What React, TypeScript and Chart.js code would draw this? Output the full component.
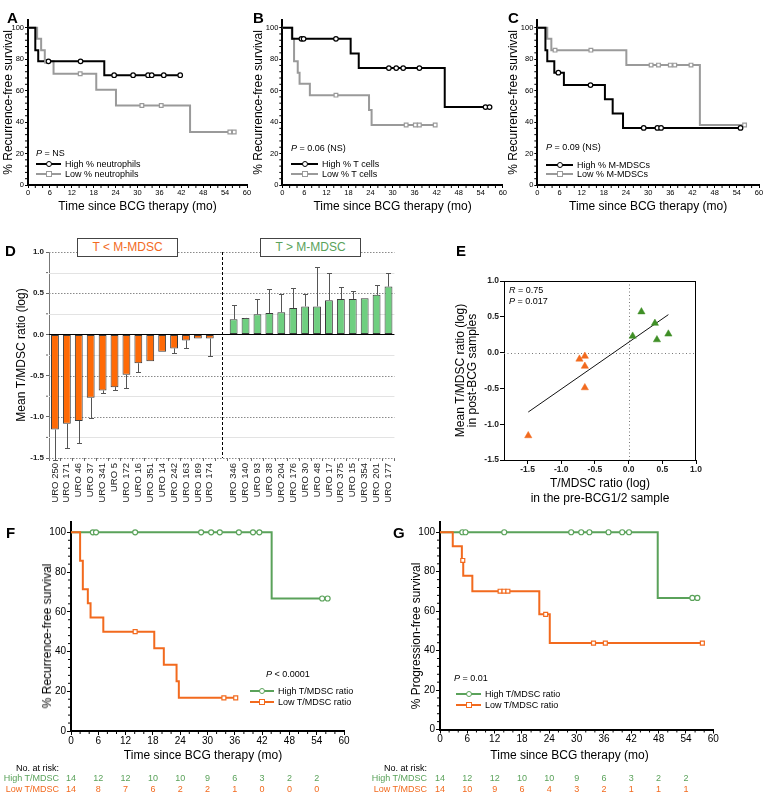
import React, { useEffect, useRef } from 'react';
import { Chart, registerables } from 'chart.js';

Chart.register(...registerables);

const FONT = '"Liberation Sans", Arial, Helvetica, sans-serif';
const BLACK = '#000000';
const GRAY = '#9a9a9a';
const GREEN = '#5aa25a';
const ORANGE = '#f26a1e';
const BAR_ORANGE = '#ff6a06';
const BAR_GREEN = '#6fcf80';
const TRI_GREEN = '#3f8f26';

// ---------- shared Kaplan–Meier axes ----------
const KM_X_TICKS = [0, 6, 12, 18, 24, 30, 36, 42, 48, 54, 60];
const KM_X_MINOR = [2, 4, 8, 10, 14, 16, 20, 22, 26, 28, 32, 34, 38, 40, 44, 46, 50, 52, 56, 58];
const KM_Y_TICKS = [0, 20, 40, 60, 80, 100];
const KM_Y_MINOR = [4, 8, 12, 16, 24, 28, 32, 36, 44, 48, 52, 56, 64, 68, 72, 76, 84, 88, 92, 96];
const AT_RISK_TIMES = [0, 6, 12, 18, 24, 30, 36, 42, 48, 54];

// ---------- Panel A (neutrophils) ----------
const A_HIGH_T = [0, 2.0, 2.8, 20.9, 41.7];
const A_HIGH_S = [100, 85.7, 78.6, 69.8, 69.8];
const A_HIGH_CENS_T = [5.6, 14.4, 23.6, 28.8, 32.9, 33.9, 37.2, 41.7];
const A_HIGH_CENS_S = [78.6, 78.6, 69.8, 69.8, 69.8, 69.8, 69.8, 69.8];
const A_LOW_T = [0, 2.5, 3.6, 4.6, 7.0, 18.7, 24.1, 44.4, 56.5];
const A_LOW_S = [100, 92.9, 85.7, 78.6, 70.7, 60.6, 50.5, 33.7, 33.7];
const A_LOW_CENS_T = [5.1, 14.3, 31.2, 36.5, 55.3, 56.5];
const A_LOW_CENS_S = [78.6, 70.7, 50.5, 50.5, 33.7, 33.7];

// ---------- Panel B (T cells) ----------
const B_HIGH_T = [0, 2.7, 18.6, 20.8, 44.2, 56.4];
const B_HIGH_S = [100, 92.9, 83.6, 74.3, 49.5, 49.5];
const B_HIGH_CENS_T = [5.2, 5.8, 14.6, 29.0, 31.0, 32.9, 37.3, 55.3, 56.4];
const B_HIGH_CENS_S = [92.9, 92.9, 92.9, 74.3, 74.3, 74.3, 74.3, 49.5, 49.5];
const B_LOW_T = [0, 2.6, 3.2, 4.2, 4.7, 7.5, 23.6, 24.3, 41.6];
const B_LOW_S = [100, 92.9, 78.6, 71.4, 64.3, 57.1, 47.6, 38.1, 38.1];
const B_LOW_CENS_T = [14.6, 33.7, 36.2, 37.3, 41.6];
const B_LOW_CENS_S = [57.1, 38.1, 38.1, 38.1, 38.1];

// ---------- Panel C (M-MDSCs) ----------
const C_HIGH_T = [0, 2.2, 2.7, 4.6, 7.2, 18.3, 20.4, 23.2, 55.0];
const C_HIGH_S = [100, 85.7, 78.6, 71.4, 63.5, 54.5, 45.4, 36.3, 36.3];
const C_HIGH_CENS_T = [5.7, 14.4, 28.8, 32.5, 33.5, 55.0];
const C_HIGH_CENS_S = [71.4, 63.5, 36.3, 36.3, 36.3, 36.3];
const C_LOW_T = [0, 2.7, 3.8, 24.1, 44.0, 56.1];
const C_LOW_S = [100, 92.9, 85.7, 76.2, 38.1, 38.1];
const C_LOW_CENS_T = [4.8, 14.5, 30.8, 32.8, 36.0, 37.2, 41.6, 56.1];
const C_LOW_CENS_S = [85.7, 85.7, 76.2, 76.2, 76.2, 76.2, 76.2, 38.1];

// ---------- Panel D (mean T/MDSC ratio per patient) ----------
const D_LOW_LABELS = ['URO 250', 'URO 171', 'URO 46', 'URO 37', 'URO 341', 'URO 5', 'URO 172', 'URO 16', 'URO 351', 'URO 14', 'URO 242', 'URO 163', 'URO 169', 'URO 174'];
const D_LOW_VALUES = [-1.155, -1.085, -1.05, -0.77, -0.68, -0.64, -0.49, -0.35, -0.325, -0.21, -0.17, -0.073, -0.05, -0.05];
const D_LOW_ERR_END = [-1.52, -1.38, -1.32, -1.02, -0.71, -0.67, -0.65, -0.46, null, null, -0.23, -0.16, null, -0.26];
const D_HIGH_LABELS = ['URO 346', 'URO 140', 'URO 93', 'URO 38', 'URO 204', 'URO 176', 'URO 30', 'URO 48', 'URO 17', 'URO 375', 'URO 15', 'URO 354', 'URO 201', 'URO 177'];
const D_HIGH_VALUES = [0.183, 0.2, 0.244, 0.26, 0.27, 0.32, 0.34, 0.34, 0.415, 0.43, 0.43, 0.44, 0.48, 0.58];
const D_HIGH_ERR_END = [0.36, 0.205, 0.43, 0.55, 0.49, 0.56, 0.49, 0.82, 0.75, 0.57, 0.53, null, 0.6, 0.75];
const D_Y_TICKS = [-1.5, -1.0, -0.5, 0, 0.5, 1.0];
const D_Y_GRID = [-1.5, -1.0, -0.5, 0.5, 1.0];
const D_Y_MINOR = [-1.25, -0.75, -0.25, 0.25, 0.75];

// ---------- Panel E (correlation) ----------
const E_LOW_X = [-1.49, -0.73, -0.65, -0.65, -0.65];
const E_LOW_Y = [-1.16, -0.09, -0.05, -0.19, -0.49];
const E_HIGH_X = [0.06, 0.19, 0.39, 0.42, 0.59];
const E_HIGH_Y = [0.23, 0.57, 0.41, 0.18, 0.26];
const E_FIT_X = [-1.49, 0.59];
const E_FIT_Y = [-0.83, 0.53];
const E_TICKS = [-1.5, -1.0, -0.5, 0, 0.5, 1.0];

// ---------- Panel F (recurrence-free, T/MDSC) ----------
const F_HIGH_T = [0, 44.1, 56.4];
const F_HIGH_S = [100, 66.7, 66.7];
const F_HIGH_CENS_T = [4.8, 5.5, 14.1, 28.6, 30.8, 32.7, 36.9, 40.0, 41.4, 55.2, 56.4];
const F_HIGH_CENS_S = [100, 100, 100, 100, 100, 100, 100, 100, 100, 66.7, 66.7];
const F_LOW_T = [0, 2.0, 2.6, 3.7, 4.3, 7.1, 18.3, 20.4, 23.2, 23.7, 36.2];
const F_LOW_S = [100, 85.7, 71.4, 64.3, 57.1, 50, 41.7, 33.3, 25, 16.7, 16.7];
const F_LOW_CENS_T = [14.1, 33.6, 36.2];
const F_LOW_CENS_S = [50, 16.7, 16.7];
const F_RISK_HIGH = [14, 12, 12, 10, 10, 9, 6, 3, 2, 2];
const F_RISK_LOW = [14, 8, 7, 6, 2, 2, 1, 0, 0, 0];

// ---------- Panel G (progression-free, T/MDSC) ----------
const G_HIGH_T = [0, 47.8, 56.5];
const G_HIGH_S = [100, 66.7, 66.7];
const G_HIGH_CENS_T = [4.9, 5.6, 14.1, 28.8, 31.0, 32.8, 37.0, 40.0, 41.5, 55.4, 56.5];
const G_HIGH_CENS_S = [100, 100, 100, 100, 100, 100, 100, 100, 100, 66.7, 66.7];
const G_LOW_T = [0, 2.8, 4.8, 5.1, 7.1, 21.8, 24.1, 57.6];
const G_LOW_S = [100, 92.9, 85.7, 77.9, 70.1, 58.4, 43.8, 43.8];
const G_LOW_CENS_T = [5.0, 13.2, 14.05, 14.9, 23.2, 33.7, 36.3, 57.6];
const G_LOW_CENS_S = [85.7, 70.1, 70.1, 70.1, 58.4, 43.8, 43.8, 43.8];
const G_RISK_HIGH = [14, 12, 12, 10, 10, 9, 6, 3, 2, 2];
const G_RISK_LOW = [14, 10, 9, 6, 4, 3, 2, 1, 1, 1];

// ---------- layout ----------
type Rect = { x: number; y: number; w: number; h: number };
type Plot = { l: number; t: number; r: number; b: number };

const A_RECT: Rect = { x: 0, y: 5, w: 253, h: 210 };
const A_PLOT: Plot = { l: 28, t: 19.8, r: 247, b: 185 };
const B_RECT: Rect = { x: 250, y: 5, w: 258, h: 210 };
const B_PLOT: Plot = { l: 282.3, t: 19.8, r: 504, b: 185 };
const C_RECT: Rect = { x: 505, y: 5, w: 265, h: 210 };
const C_PLOT: Plot = { l: 537.3, t: 19.8, r: 759, b: 185 };
const D_RECT: Rect = { x: 0, y: 232, w: 402, h: 288 };
const D_PLOT: Plot = { l: 49, t: 252, r: 396, b: 458 };
const E_RECT: Rect = { x: 440, y: 262, w: 285, h: 248 };
const E_PLOT: Plot = { l: 504, t: 281, r: 696, b: 460 };
const F_RECT: Rect = { x: 28, y: 512, w: 330, h: 240 };
const F_PLOT: Plot = { l: 71, t: 522.4, r: 344, b: 731 };
const G_RECT: Rect = { x: 396, y: 512, w: 330, h: 240 };
const G_PLOT: Plot = { l: 440, t: 522.4, r: 713.3, b: 729.5 };

function frame(rect: Rect, plot: Plot) {
  return {
    padding: { left: 0, top: plot.t - rect.y, right: rect.x + rect.w - plot.r, bottom: 0 },
    yWidth: plot.l - rect.x,
    xHeight: rect.y + rect.h - plot.b,
  };
}

function baseOptions(L: any) {
  return {
    animation: false,
    responsive: false,
    maintainAspectRatio: false,
    devicePixelRatio: 1,
    events: [],
    layout: { padding: L.padding },
    plugins: { legend: { display: false }, tooltip: { enabled: false }, title: { display: false } },
  };
}

function minorTicks(xVals: number[], yVals: number[], len: number, width: number, color: string) {
  return {
    id: 'minorTicks',
    afterDraw(chart: any) {
      const { ctx, chartArea: a, scales } = chart;
      ctx.save();
      ctx.strokeStyle = color;
      ctx.lineWidth = width;
      ctx.beginPath();
      xVals.forEach((v) => {
        const px = scales.x.getPixelForValue(v);
        ctx.moveTo(px, a.bottom + 1);
        ctx.lineTo(px, a.bottom + 1 + len);
      });
      yVals.forEach((v) => {
        const py = scales.y.getPixelForValue(v);
        ctx.moveTo(a.left - 1, py);
        ctx.lineTo(a.left - 1 - len, py);
      });
      ctx.stroke();
      ctx.restore();
    },
  };
}

type KMSeries = { t: number[]; s: number[]; ct: number[]; cs: number[]; color: string; marker: string; width: number; radius: number };

function kmConfig(rect: Rect, plot: Plot, series: KMSeries[], o: any) {
  const L = frame(rect, plot);
  const datasets: any[] = [];
  series.forEach((sr) =>
    datasets.push({
      type: 'line',
      data: sr.ct.map((x, i) => ({ x, y: sr.cs[i] })),
      showLine: false,
      pointStyle: sr.marker,
      pointRadius: sr.radius,
      pointBackgroundColor: '#ffffff',
      pointBorderColor: sr.color,
      pointBorderWidth: 1.2,
      clip: false,
    })
  );
  series.forEach((sr) =>
    datasets.push({
      type: 'line',
      data: sr.t.map((x, i) => ({ x, y: sr.s[i] })),
      stepped: 'before',
      borderColor: sr.color,
      borderWidth: sr.width,
      pointRadius: 0,
      fill: false,
      clip: false,
    })
  );
  return {
    type: 'line',
    data: { datasets },
    plugins: [minorTicks(KM_X_MINOR, KM_Y_MINOR, 2, 1, BLACK)],
    options: {
      ...baseOptions(L),
      scales: {
        x: {
          type: 'linear',
          min: 0,
          max: 60,
          afterBuildTicks: (s: any) => {
            s.ticks = KM_X_TICKS.map((v) => ({ value: v }));
          },
          afterFit: (s: any) => {
            s.height = L.xHeight;
          },
          ticks: { font: { family: FONT, size: o.tickSize }, color: BLACK, padding: o.xTickPad, maxRotation: 0, autoSkip: false },
          grid: { drawOnChartArea: false, tickLength: o.tickLen, tickWidth: 1, tickColor: BLACK },
          border: { color: BLACK, width: o.axisWidth },
          title: o.xTitle
            ? { display: true, text: o.xTitle, font: { family: FONT, size: 12 }, color: BLACK, padding: { top: 0, bottom: o.xTitlePad } }
            : { display: false },
        },
        y: {
          type: 'linear',
          min: 0,
          max: 105,
          afterBuildTicks: (s: any) => {
            s.ticks = KM_Y_TICKS.map((v) => ({ value: v }));
          },
          afterFit: (s: any) => {
            s.width = L.yWidth;
          },
          ticks: { font: { family: FONT, size: o.tickSize }, color: BLACK, padding: o.yTickPad, autoSkip: false },
          grid: { drawOnChartArea: false, tickLength: o.tickLen, tickWidth: 1, tickColor: BLACK },
          border: { color: BLACK, width: o.axisWidth },
          title: o.yTitle
            ? { display: true, text: o.yTitle, font: { family: FONT, size: 12 }, color: BLACK, padding: { top: o.yTitlePad, bottom: 0 } }
            : { display: false },
        },
      },
    },
  };
}

const TOP_KM_OPTS = {
  tickSize: 7.5,
  tickLen: 3,
  xTickPad: 0,
  yTickPad: 1,
  axisWidth: 2,
  xTitle: 'Time since BCG therapy (mo)',
  yTitle: '% Recurrence-free survival',
  xTitlePad: 0.8,
  yTitlePad: 1.8,
};

const BOTTOM_KM_OPTS = {
  tickSize: 10,
  tickLen: 4,
  xTickPad: 0,
  yTickPad: 1,
  axisWidth: 2,
};

function configA() {
  return kmConfig(A_RECT, A_PLOT, [
    { t: A_HIGH_T, s: A_HIGH_S, ct: A_HIGH_CENS_T, cs: A_HIGH_CENS_S, color: BLACK, marker: 'circle', width: 2, radius: 2.3 },
    { t: A_LOW_T, s: A_LOW_S, ct: A_LOW_CENS_T, cs: A_LOW_CENS_S, color: GRAY, marker: 'rect', width: 2, radius: 2.6 },
  ], TOP_KM_OPTS);
}
function configB() {
  return kmConfig(B_RECT, B_PLOT, [
    { t: B_HIGH_T, s: B_HIGH_S, ct: B_HIGH_CENS_T, cs: B_HIGH_CENS_S, color: BLACK, marker: 'circle', width: 2, radius: 2.3 },
    { t: B_LOW_T, s: B_LOW_S, ct: B_LOW_CENS_T, cs: B_LOW_CENS_S, color: GRAY, marker: 'rect', width: 2, radius: 2.6 },
  ], TOP_KM_OPTS);
}
function configC() {
  return kmConfig(C_RECT, C_PLOT, [
    { t: C_HIGH_T, s: C_HIGH_S, ct: C_HIGH_CENS_T, cs: C_HIGH_CENS_S, color: BLACK, marker: 'circle', width: 2, radius: 2.3 },
    { t: C_LOW_T, s: C_LOW_S, ct: C_LOW_CENS_T, cs: C_LOW_CENS_S, color: GRAY, marker: 'rect', width: 2, radius: 2.6 },
  ], TOP_KM_OPTS);
}
function configF() {
  return kmConfig(F_RECT, F_PLOT, [
    { t: F_LOW_T, s: F_LOW_S, ct: F_LOW_CENS_T, cs: F_LOW_CENS_S, color: ORANGE, marker: 'rect', width: 2, radius: 2.8 },
    { t: F_HIGH_T, s: F_HIGH_S, ct: F_HIGH_CENS_T, cs: F_HIGH_CENS_S, color: GREEN, marker: 'circle', width: 2, radius: 2.5 },
  ], BOTTOM_KM_OPTS);
}
function configG() {
  return kmConfig(G_RECT, G_PLOT, [
    { t: G_LOW_T, s: G_LOW_S, ct: G_LOW_CENS_T, cs: G_LOW_CENS_S, color: ORANGE, marker: 'rect', width: 2, radius: 2.8 },
    { t: G_HIGH_T, s: G_HIGH_S, ct: G_HIGH_CENS_T, cs: G_HIGH_CENS_S, color: GREEN, marker: 'circle', width: 2, radius: 2.5 },
  ], BOTTOM_KM_OPTS);
}

function configD() {
  const L = frame(D_RECT, D_PLOT);
  const labels = [...D_LOW_LABELS, '', ...D_HIGH_LABELS];
  const values = [...D_LOW_VALUES, null, ...D_HIGH_VALUES];
  const errEnds = [...D_LOW_ERR_END, null, ...D_HIGH_ERR_END];
  const colors = [...D_LOW_VALUES.map(() => BAR_ORANGE), 'rgba(0,0,0,0)', ...D_HIGH_VALUES.map(() => BAR_GREEN)];
  const gapIndex = D_LOW_LABELS.length;
  const decor = {
    id: 'dDecor',
    beforeDatasetsDraw(chart: any) {
      const { ctx, chartArea: a, scales } = chart;
      const y = scales.y;
      ctx.save();
      ctx.lineWidth = 1;
      ctx.strokeStyle = '#e3e3e3';
      ctx.beginPath();
      D_Y_MINOR.forEach((v) => {
        const py = Math.round(y.getPixelForValue(v)) + 0.5;
        ctx.moveTo(a.left, py);
        ctx.lineTo(a.right, py);
      });
      ctx.stroke();
      ctx.strokeStyle = '#8a8a8a';
      ctx.setLineDash([1.5, 1.5]);
      ctx.beginPath();
      D_Y_GRID.forEach((v) => {
        const py = Math.round(y.getPixelForValue(v)) + 0.5;
        ctx.moveTo(a.left, py);
        ctx.lineTo(a.right, py);
      });
      ctx.stroke();
      ctx.restore();
    },
    afterDatasetsDraw(chart: any) {
      const { ctx, chartArea: a, scales } = chart;
      const x = scales.x;
      const y = scales.y;
      const meta = chart.getDatasetMeta(0);
      ctx.save();
      // error bars
      ctx.strokeStyle = '#555555';
      ctx.lineWidth = 1;
      ctx.beginPath();
      values.forEach((v, i) => {
        const e = errEnds[i];
        if (v === null || e === null || e === undefined) return;
        const px = Math.round(meta.data[i].x) + 0.5;
        const y0 = y.getPixelForValue(v as number);
        const y1 = Math.round(y.getPixelForValue(e)) + 0.5;
        ctx.moveTo(px, y0);
        ctx.lineTo(px, y1);
        ctx.moveTo(px - 2.5, y1);
        ctx.lineTo(px + 2.5, y1);
      });
      ctx.stroke();
      // zero line
      ctx.strokeStyle = BLACK;
      ctx.beginPath();
      const y0 = Math.round(y.getPixelForValue(0)) + 0.5;
      ctx.moveTo(a.left, y0);
      ctx.lineTo(a.right, y0);
      ctx.stroke();
      // divider
      ctx.setLineDash([3, 2]);
      ctx.beginPath();
      const gx = Math.round(x.getPixelForValue(gapIndex)) + 0.5;
      ctx.moveTo(gx, a.top);
      ctx.lineTo(gx, a.bottom);
      ctx.stroke();
      ctx.restore();
    },
  };
  return {
    type: 'bar',
    data: {
      labels,
      datasets: [
        {
          data: values,
          backgroundColor: colors,
          borderColor: '#3a3a3a',
          borderWidth: 1,
          borderSkipped: false,
          barPercentage: 0.66,
          categoryPercentage: 1,
        },
      ],
    },
    plugins: [decor, minorTicks([], D_Y_MINOR, 2, 1, '#666666')],
    options: {
      ...baseOptions(L),
      scales: {
        x: {
          type: 'category',
          afterFit: (s: any) => {
            s.height = L.xHeight;
          },
          ticks: { autoSkip: false, minRotation: 90, maxRotation: 90, font: { family: FONT, size: 9.5 }, color: '#222222', padding: 2 },
          grid: { drawOnChartArea: false, tickLength: 3, color: '#666666' },
          border: { display: false },
        },
        y: {
          type: 'linear',
          min: -1.5,
          max: 1.0,
          afterBuildTicks: (s: any) => {
            s.ticks = D_Y_TICKS.map((v) => ({ value: v }));
          },
          afterFit: (s: any) => {
            s.width = L.yWidth;
          },
          ticks: { callback: (v: any) => Number(v).toFixed(1), font: { family: FONT, size: 8, weight: 'bold' }, color: '#222222', padding: 2 },
          grid: { drawOnChartArea: false, tickLength: 3, color: '#666666' },
          border: { color: '#777777', width: 1 },
          title: { display: true, text: 'Mean T/MDSC ratio (log)', font: { family: FONT, size: 12 }, color: BLACK, padding: { top: 14.8, bottom: 0 } },
        },
      },
    },
  };
}

function configE() {
  const L = frame(E_RECT, E_PLOT);
  const decor = {
    id: 'eDecor',
    beforeDatasetsDraw(chart: any) {
      const { ctx, chartArea: a, scales } = chart;
      ctx.save();
      ctx.strokeStyle = '#777777';
      ctx.lineWidth = 1;
      ctx.setLineDash([1, 2.5]);
      ctx.beginPath();
      const px = Math.round(scales.x.getPixelForValue(0)) + 0.5;
      const py = Math.round(scales.y.getPixelForValue(0)) + 0.5;
      ctx.moveTo(px, a.top);
      ctx.lineTo(px, a.bottom);
      ctx.moveTo(a.left, py);
      ctx.lineTo(a.right, py);
      ctx.stroke();
      ctx.restore();
    },
    afterDraw(chart: any) {
      const { ctx, chartArea: a } = chart;
      ctx.save();
      ctx.strokeStyle = BLACK;
      ctx.lineWidth = 1;
      ctx.beginPath();
      ctx.moveTo(a.left, Math.round(a.top) + 0.5);
      ctx.lineTo(a.right, Math.round(a.top) + 0.5);
      ctx.moveTo(Math.round(a.right) - 0.5, a.top);
      ctx.lineTo(Math.round(a.right) - 0.5, a.bottom);
      ctx.stroke();
      ctx.restore();
    },
  };
  const tickFont = { family: FONT, size: 8.5, weight: 'bold' };
  return {
    type: 'scatter',
    data: {
      datasets: [
        {
          data: E_LOW_X.map((x, i) => ({ x, y: E_LOW_Y[i] })),
          pointStyle: 'triangle',
          pointRadius: 4.2,
          backgroundColor: ORANGE,
          borderColor: ORANGE,
          borderWidth: 0.5,
        },
        {
          data: E_HIGH_X.map((x, i) => ({ x, y: E_HIGH_Y[i] })),
          pointStyle: 'triangle',
          pointRadius: 4.2,
          backgroundColor: TRI_GREEN,
          borderColor: TRI_GREEN,
          borderWidth: 0.5,
        },
        {
          type: 'line',
          data: E_FIT_X.map((x, i) => ({ x, y: E_FIT_Y[i] })),
          showLine: true,
          borderColor: '#111111',
          borderWidth: 1,
          pointRadius: 0,
        },
      ],
    },
    plugins: [decor],
    options: {
      ...baseOptions(L),
      scales: {
        x: {
          type: 'linear',
          min: -1.85,
          max: 1.0,
          afterBuildTicks: (s: any) => {
            s.ticks = E_TICKS.map((v) => ({ value: v }));
          },
          afterFit: (s: any) => {
            s.height = L.xHeight;
          },
          ticks: { callback: (v: any) => Number(v).toFixed(1), font: tickFont, color: '#222222', padding: 1, maxRotation: 0, autoSkip: false },
          grid: { drawOnChartArea: false, tickLength: 4, tickColor: BLACK },
          border: { color: BLACK, width: 1 },
          title: {
            display: true,
            text: ['T/MDSC ratio (log)', 'in the pre-BCG1/2 sample'],
            font: { family: FONT, size: 12, lineHeight: 1.2 },
            color: BLACK,
            padding: { top: 0, bottom: 4.4 },
          },
        },
        y: {
          type: 'linear',
          min: -1.5,
          max: 1.0,
          afterBuildTicks: (s: any) => {
            s.ticks = E_TICKS.map((v) => ({ value: v }));
          },
          afterFit: (s: any) => {
            s.width = L.yWidth;
          },
          ticks: { callback: (v: any) => Number(v).toFixed(1), font: tickFont, color: '#222222', padding: 1, autoSkip: false },
          grid: { drawOnChartArea: false, tickLength: 4, tickColor: BLACK },
          border: { color: BLACK, width: 1 },
          title: {
            display: true,
            text: ['Mean T/MDSC ratio (log)', 'in post-BCG samples'],
            font: { family: FONT, size: 12, lineHeight: 0.95 },
            color: BLACK,
            padding: { top: 15.3, bottom: 0 },
          },
        },
      },
    },
  };
}

// ---------- React pieces ----------
function ChartCanvas({ rect, make }: { rect: Rect; make: () => any }) {
  const ref = useRef<HTMLCanvasElement | null>(null);
  useEffect(() => {
    const chart = new Chart(ref.current as HTMLCanvasElement, make());
    return () => chart.destroy();
  }, []);
  return (
    <canvas
      ref={ref}
      width={rect.w}
      height={rect.h}
      style={{ position: 'absolute', left: rect.x, top: rect.y, width: rect.w, height: rect.h }}
    />
  );
}

function Txt({ x, y, size = 9, color = BLACK, align = 'left', bold = false, children }: any) {
  const tx = align === 'center' ? '-50%' : align === 'right' ? '-100%' : '0';
  return (
    <div
      style={{
        position: 'absolute',
        left: x,
        top: y,
        transform: `translate(${tx}, -50%)`,
        fontSize: size,
        lineHeight: 1,
        color,
        fontWeight: bold ? 700 : 400,
        whiteSpace: 'nowrap',
      }}
    >
      {children}
    </div>
  );
}

function VTxt({ x, y, size = 12, children }: any) {
  return (
    <div
      style={{
        position: 'absolute',
        left: x,
        top: y,
        transform: 'translate(-50%, -50%) rotate(-90deg)',
        fontSize: size,
        lineHeight: 1,
        whiteSpace: 'nowrap',
        color: BLACK,
      }}
    >
      {children}
    </div>
  );
}

function LegendRow({ x1, x2, y, color, marker, label, size = 9 }: any) {
  const mx = (x1 + x2) / 2;
  return (
    <>
      <div style={{ position: 'absolute', left: x1, top: y - 1, width: x2 - x1, height: 2, background: color }} />
      <div
        style={{
          position: 'absolute',
          left: mx - 3,
          top: y - 3,
          width: 6,
          height: 6,
          boxSizing: 'border-box',
          border: `1.2px solid ${color}`,
          background: '#ffffff',
          borderRadius: marker === 'circle' ? '50%' : 0,
        }}
      />
      <Txt x={x2 + 4} y={y} size={size}>
        {label}
      </Txt>
    </>
  );
}

function AtRisk({ plot, labelRight, ys, high, low }: any) {
  const px = (t: number) => plot.l + (t / 60) * (plot.r - plot.l);
  return (
    <>
      <Txt x={labelRight} y={ys[0]} align="right" size={9}>
        No. at risk:
      </Txt>
      <Txt x={labelRight} y={ys[1]} align="right" size={9} color={GREEN}>
        High T/MDSC
      </Txt>
      <Txt x={labelRight} y={ys[2]} align="right" size={9} color={ORANGE}>
        Low T/MDSC
      </Txt>
      {AT_RISK_TIMES.map((t, i) => (
        <Txt key={'h' + t} x={px(t)} y={ys[1]} align="center" size={9} color={GREEN}>
          {high[i]}
        </Txt>
      ))}
      {AT_RISK_TIMES.map((t, i) => (
        <Txt key={'l' + t} x={px(t)} y={ys[2]} align="center" size={9} color={ORANGE}>
          {low[i]}
        </Txt>
      ))}
    </>
  );
}

function PText({ x, y, rest, size = 9 }: any) {
  return (
    <Txt x={x} y={y} size={size}>
      <i>P</i>
      {rest}
    </Txt>
  );
}

function Box({ x, y, w, h, color, children }: any) {
  return (
    <div
      style={{
        position: 'absolute',
        left: x,
        top: y,
        width: w,
        height: h,
        boxSizing: 'border-box',
        border: '1.5px solid #444444',
        background: '#ffffff',
        color,
        fontSize: 12,
        lineHeight: `${h - 3}px`,
        textAlign: 'center',
        whiteSpace: 'nowrap',
      }}
    >
      {children}
    </div>
  );
}

export default function App() {
  return (
    <div
      style={{
        position: 'absolute',
        left: 0,
        top: 0,
        width: 763,
        height: 810,
        overflow: 'hidden',
        background: '#ffffff',
        fontFamily: FONT,
        color: BLACK,
      }}
    >
      <ChartCanvas rect={A_RECT} make={configA} />
      <ChartCanvas rect={B_RECT} make={configB} />
      <ChartCanvas rect={C_RECT} make={configC} />
      <ChartCanvas rect={D_RECT} make={configD} />
      <ChartCanvas rect={E_RECT} make={configE} />
      <ChartCanvas rect={F_RECT} make={configF} />
      <ChartCanvas rect={G_RECT} make={configG} />

      {/* panel letters */}
      <Txt x={7} y={17} size={15} bold>A</Txt>
      <Txt x={253} y={17} size={15} bold>B</Txt>
      <Txt x={508} y={17} size={15} bold>C</Txt>
      <Txt x={5} y={250} size={15} bold>D</Txt>
      <Txt x={456} y={250} size={15} bold>E</Txt>
      <Txt x={6} y={532} size={15} bold>F</Txt>
      <Txt x={393} y={532} size={15} bold>G</Txt>

      {/* A legend */}
      <PText x={36} y={153} rest=" = NS" />
      <LegendRow x1={36} x2={61} y={164} color={BLACK} marker="circle" label="High % neutrophils" />
      <LegendRow x1={36} x2={61} y={174} color={GRAY} marker="rect" label="Low % neutrophils" />

      {/* B legend */}
      <PText x={291} y={147.5} rest=" = 0.06 (NS)" />
      <LegendRow x1={291} x2={318} y={164.3} color={BLACK} marker="circle" label="High % T cells" />
      <LegendRow x1={291} x2={318} y={173.7} color={GRAY} marker="rect" label="Low % T cells" />

      {/* C legend */}
      <PText x={546} y={147} rest=" = 0.09 (NS)" />
      <LegendRow x1={546} x2={573} y={165} color={BLACK} marker="circle" label="High % M-MDSCs" />
      <LegendRow x1={546} x2={573} y={173.7} color={GRAY} marker="rect" label="Low % M-MDSCs" />

      {/* D boxes */}
      <Box x={77} y={238} w={101} h={19} color={ORANGE}>T &lt; M-MDSC</Box>
      <Box x={260} y={238} w={101} h={19} color={GREEN}>T &gt; M-MDSC</Box>

      {/* E stats */}
      <Txt x={509} y={290} size={9}>
        <i>R</i> = 0.75
      </Txt>
      <Txt x={509} y={300.5} size={9}>
        <i>P</i> = 0.017
      </Txt>

      {/* F axis titles, legend, at-risk */}
      <VTxt x={47} y={635.5}>% Recurrence-free survival</VTxt>
      <Txt x={203} y={755} size={12} align="center">Time since BCG therapy (mo)</Txt>
      <PText x={266} y={674} rest=" < 0.0001" />
      <LegendRow x1={250} x2={274} y={691} color={GREEN} marker="circle" label="High T/MDSC ratio" />
      <LegendRow x1={250} x2={274} y={702} color={ORANGE} marker="rect" label="Low T/MDSC ratio" />
      <AtRisk plot={F_PLOT} labelRight={59} ys={[767.5, 778, 789]} high={F_RISK_HIGH} low={F_RISK_LOW} />

      {/* G axis titles, legend, at-risk */}
      <VTxt x={416} y={636}>% Progression-free survival</VTxt>
      <Txt x={569.5} y={755} size={12} align="center">Time since BCG therapy (mo)</Txt>
      <PText x={454} y={678} rest=" = 0.01" />
      <LegendRow x1={456} x2={481} y={694.3} color={GREEN} marker="circle" label="High T/MDSC ratio" />
      <LegendRow x1={456} x2={481} y={705.3} color={ORANGE} marker="rect" label="Low T/MDSC ratio" />
      <AtRisk plot={G_PLOT} labelRight={427} ys={[768, 778.3, 789.3]} high={G_RISK_HIGH} low={G_RISK_LOW} />
    </div>
  );
}
